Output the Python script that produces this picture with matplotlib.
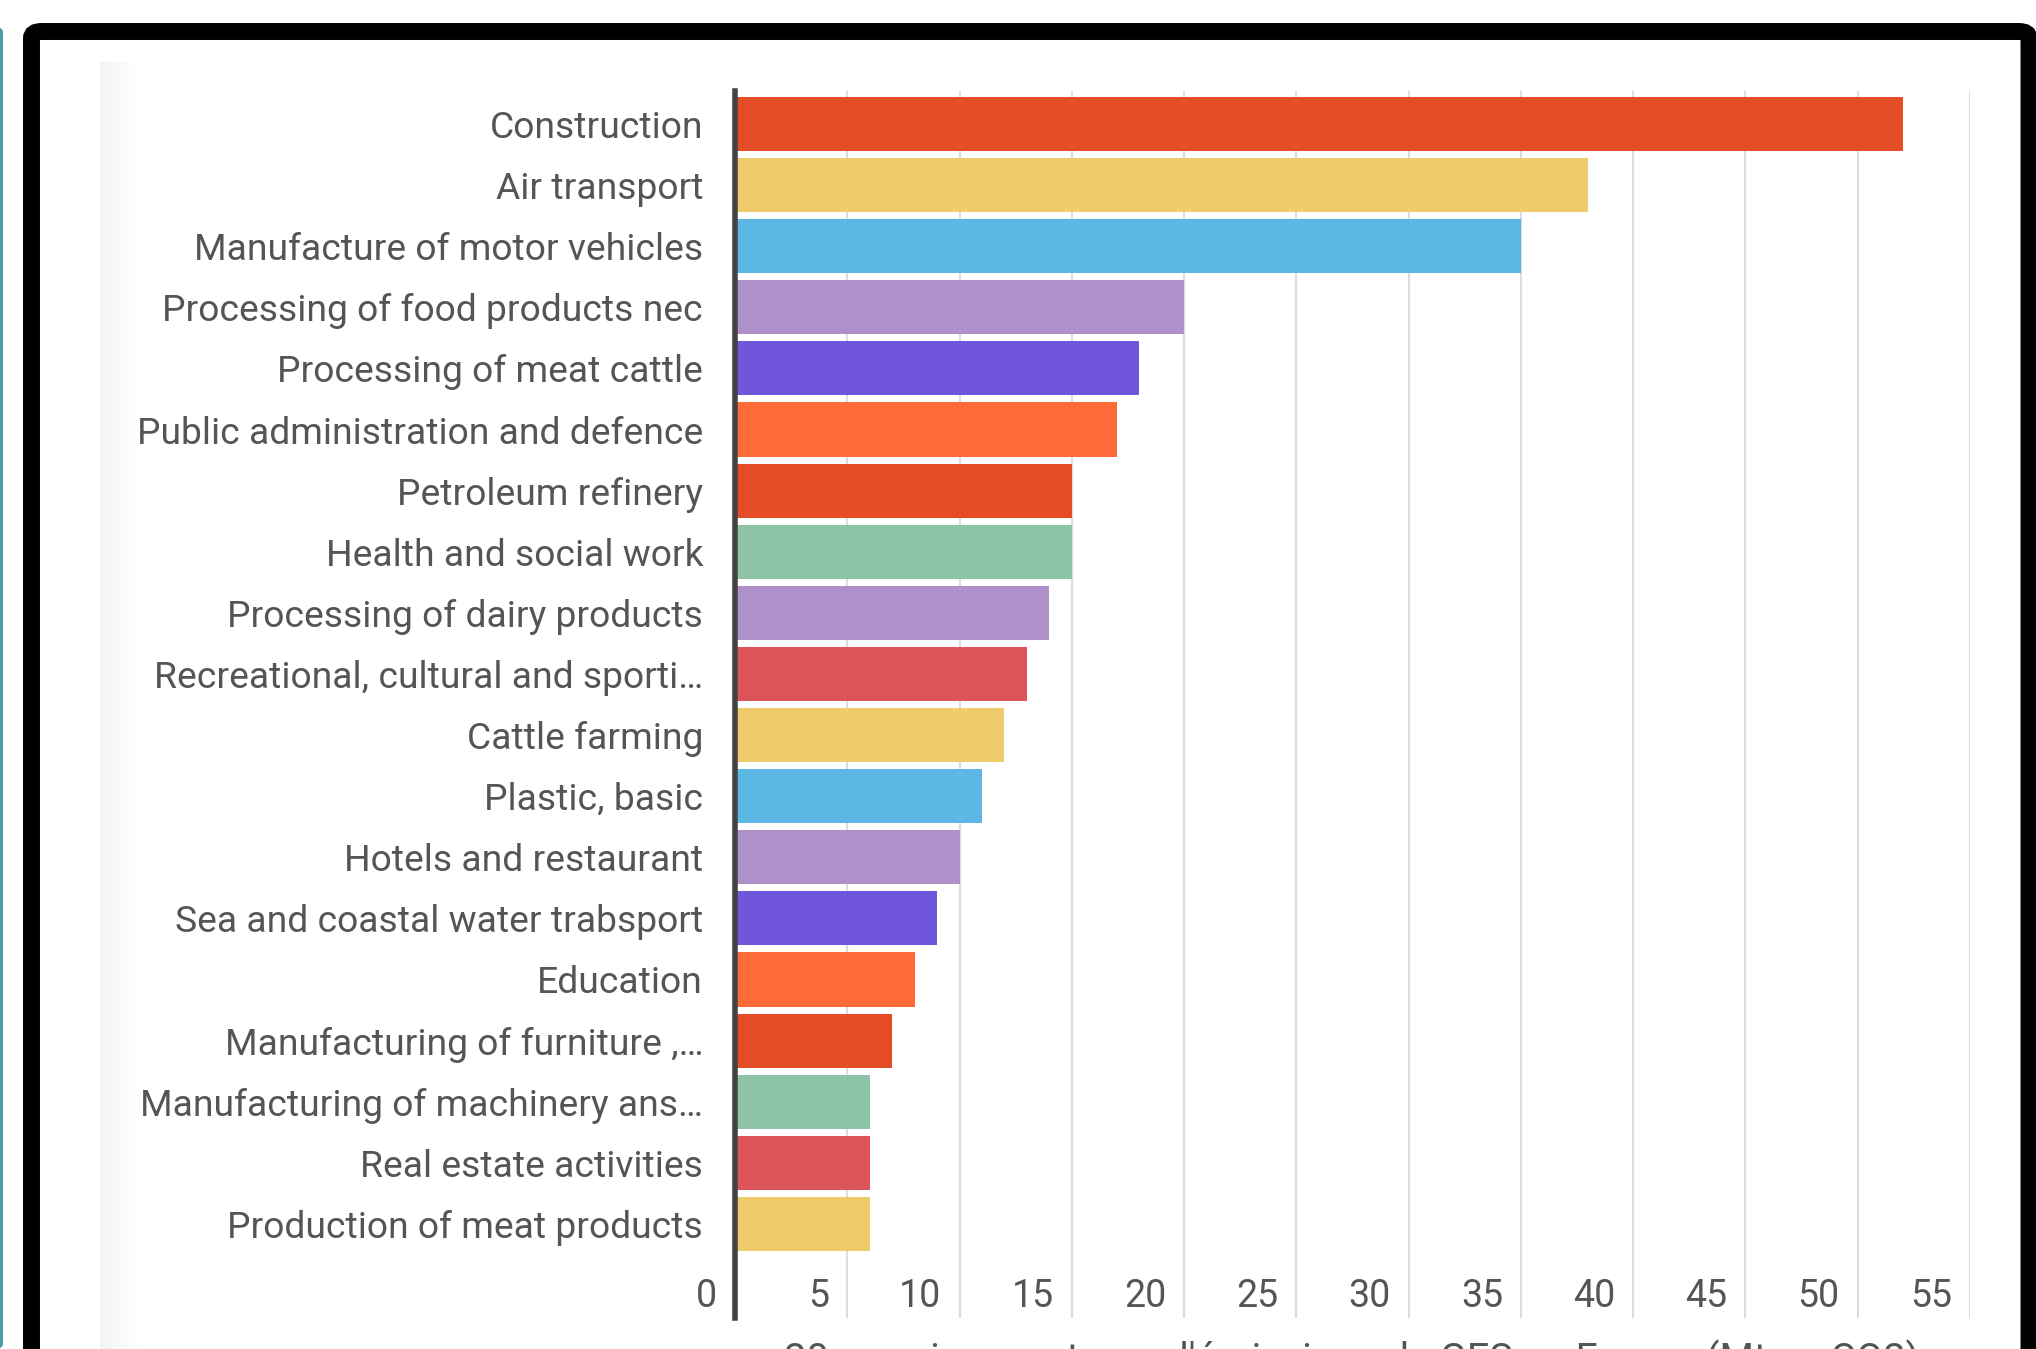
import matplotlib
matplotlib.use("Agg")
import matplotlib.pyplot as plt
import numpy as np
from matplotlib.patches import FancyBboxPatch
from matplotlib.transforms import blended_transform_factory, ScaledTranslation

plt.rcParams["font.family"] = ["Roboto", "DejaVu Sans"]

# data
sectors = [
    "Construction",
    "Air transport",
    "Manufacture of motor vehicles",
    "Processing of food products nec",
    "Processing of meat cattle",
    "Public administration and defence",
    "Petroleum refinery",
    "Health and social work",
    "Processing of dairy products",
    "Recreational, cultural and sporti\u2026",
    "Cattle farming",
    "Plastic, basic",
    "Hotels and restaurant",
    "Sea and coastal water trabsport",
    "Education",
    "Manufacturing of furniture ,\u2026",
    "Manufacturing of machinery ans\u2026",
    "Real estate activities",
    "Production of meat products",
]
emissions = [52, 38, 35, 20, 18, 17, 15, 15, 14, 13, 12, 11, 10, 9, 8, 7, 6, 6, 6]
bar_colors = [
    "#E44D26", "#EFCB6B", "#5DB7E4", "#AD91C8", "#6F56DD", "#FF6A39",
    "#E44D26", "#8DC3A7", "#AD91C8", "#DA5458", "#EFCB6B", "#5DB7E4",
    "#AD91C8", "#6F56DD", "#FF6A39", "#E44D26", "#8DC3A7", "#DA5458",
    "#EFCB6B",
]
xticks = list(range(0, 60, 5))
xlabel = "20 premiers secteurs d'\u00e9missions de GES en France (Mt eq CO2)"

W, H = 2036, 1349
text_color = "#555555"

fig = plt.figure(figsize=(W / 100, H / 100), dpi=100)
fig.patch.set_facecolor("white")

# card shadow on the left
bg = fig.add_axes([0, 0, 1, 1], zorder=-5)
bg.set_xlim(0, W)
bg.set_ylim(H, 0)
bg.axis("off")
grad = np.linspace(0.955, 1.0, 64).reshape(1, -1)
bg.imshow(np.dstack([grad, grad, grad]), extent=(100, 140, H, 62), aspect="auto", interpolation="bilinear")

# teal strip and black frame
fig.patches.append(FancyBboxPatch((-8 / W, 0), 11 / W, 1 - 27 / H,
                                  boxstyle="round,pad=0,rounding_size=0.004",
                                  transform=fig.transFigure, facecolor="#4A9EA6",
                                  edgecolor="none", zorder=-4))
fig.patches.append(FancyBboxPatch((31.5 / W, -30 / H), (2029 - 31.5) / W, (H + 30 - 31.5) / H,
                                  boxstyle="round,pad=0,rounding_size=0.005",
                                  transform=fig.transFigure, facecolor="none",
                                  edgecolor="black", linewidth=12.2, zorder=10))

ax = fig.add_axes([735 / W, 1 - 1318 / H, (1970 - 735) / W, (1318 - 91) / H])
ax.set_facecolor("none")
y = np.arange(len(sectors))
ax.barh(y, emissions, height=0.885, color=bar_colors, zorder=3)
ax.set_xlim(0, 55)
ax.set_ylim(19.54, -0.54)

ax.set_yticks(y, labels=sectors)
ax.tick_params(axis="y", length=0, pad=23, labelsize=26.8, labelcolor=text_color)
ax.set_xticks(xticks, labels=[])
ax.tick_params(axis="x", length=0)
ax.grid(axis="x", color="#DDDDDD", linewidth=1.5, zorder=0)
ax.set_axisbelow(True)

for side in ["top", "right", "bottom"]:
    ax.spines[side].set_visible(False)
ax.spines["left"].set_color("#444444")
ax.spines["left"].set_linewidth(4)
ax.spines["left"].set_zorder(5)

# tick labels sit inside the plot, left of each grid line
trans = blended_transform_factory(ax.transData, ax.transAxes) + ScaledTranslation(-0.18, 0, fig.dpi_scale_trans)
for t in xticks:
    ax.text(t, 0.009, str(t), transform=trans, ha="right", va="baseline",
            fontsize=27, color=text_color)

# x-axis title, cut off by the bottom edge as in the reference
fig.text(1352 / W, 1 - 1340 / H, xlabel, ha="center", va="top", fontsize=28.5, color=text_color)

fig.savefig("out.png", dpi=100)
